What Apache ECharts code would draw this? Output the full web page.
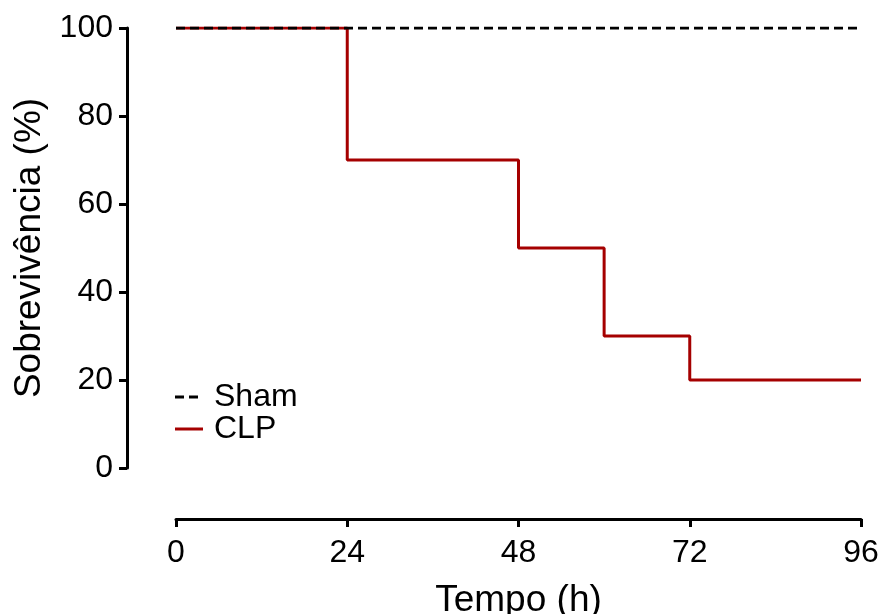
<!DOCTYPE html>
<html>
<head>
<meta charset="utf-8">
<script src="https://cdn.jsdelivr.net/npm/echarts@6/dist/echarts.min.js"></script>
<style>
  html, body { margin: 0; padding: 0; background: #ffffff; }
  #chart { width: 883px; height: 614px; }
</style>
</head>
<body>
<div id="chart"></div>
<script>
// survival curve data (time in hours, survival in %)
const shamData = [[0, 100], [96, 100]]
const clpData = [[0, 100], [24, 70], [48, 50], [60, 30], [72, 20], [96, 20]]
const xTicks = [0, 24, 48, 72, 96]
const yTicks = [0, 20, 40, 60, 80, 100]

const font = 'Liberation Sans, Arial, sans-serif'
const red = '#a50000'

const chart = echarts.init(document.getElementById('chart'))
chart.setOption({
  animation: false,
  textStyle: { fontFamily: font, color: '#000' },
  grid: { left: 176, right: 22, top: 28, bottom: 146, outerBoundsMode: 'none' },
  legend: {
    orient: 'vertical',
    left: 170,
    top: 376,
    itemWidth: 28,
    itemHeight: 3,
    itemGap: 0,
    data: [
      { name: 'Sham', icon: 'path://M0,0h9v3h-9zM14,0h9v3h-9zM27.9,0h0.1v0.1h-0.1z' },
      { name: 'CLP', icon: 'rect' },
    ],
    textStyle: { fontSize: 32, lineHeight: 31, fontFamily: font, color: '#000', padding: [0, 0, 0, 6] },
  },
  xAxis: {
    type: 'value',
    min: xTicks[0],
    max: xTicks[xTicks.length - 1],
    interval: 24,
    offset: 51,
    name: 'Tempo (h)',
    nameLocation: 'middle',
    nameGap: 63,
    nameTextStyle: { fontSize: 37, fontFamily: font, color: '#000' },
    axisLine: { onZero: false, lineStyle: { color: '#000', width: 3 } },
    axisTick: { length: 8, lineStyle: { color: '#000', width: 3 } },
    axisLabel: { fontSize: 32, color: '#000', margin: 18 },
    splitLine: { show: false },
  },
  yAxis: {
    type: 'value',
    min: yTicks[0],
    max: yTicks[yTicks.length - 1],
    interval: 20,
    offset: 49,
    name: 'Sobrevivência (%)',
    nameLocation: 'middle',
    nameGap: 78,
    nameTextStyle: { fontSize: 37, fontFamily: font, color: '#000' },
    axisLine: { show: true, onZero: false, lineStyle: { color: '#000', width: 3 } },
    axisTick: { show: true, length: 8, lineStyle: { color: '#000', width: 3 } },
    axisLabel: { fontSize: 32, color: '#000', margin: 14 },
    splitLine: { show: false },
  },
  series: [
    {
      name: 'CLP',
      type: 'line',
      step: 'end',
      data: clpData,
      symbol: 'none',
      z: 2,
      lineStyle: { color: red, width: 3 },
      itemStyle: { color: red },
    },
    {
      name: 'Sham',
      type: 'line',
      data: shamData,
      symbol: 'none',
      z: 3,
      lineStyle: { color: '#000', width: 3, type: [9, 5] },
      itemStyle: { color: '#000' },
    },
  ],
})
</script>
</body>
</html>
